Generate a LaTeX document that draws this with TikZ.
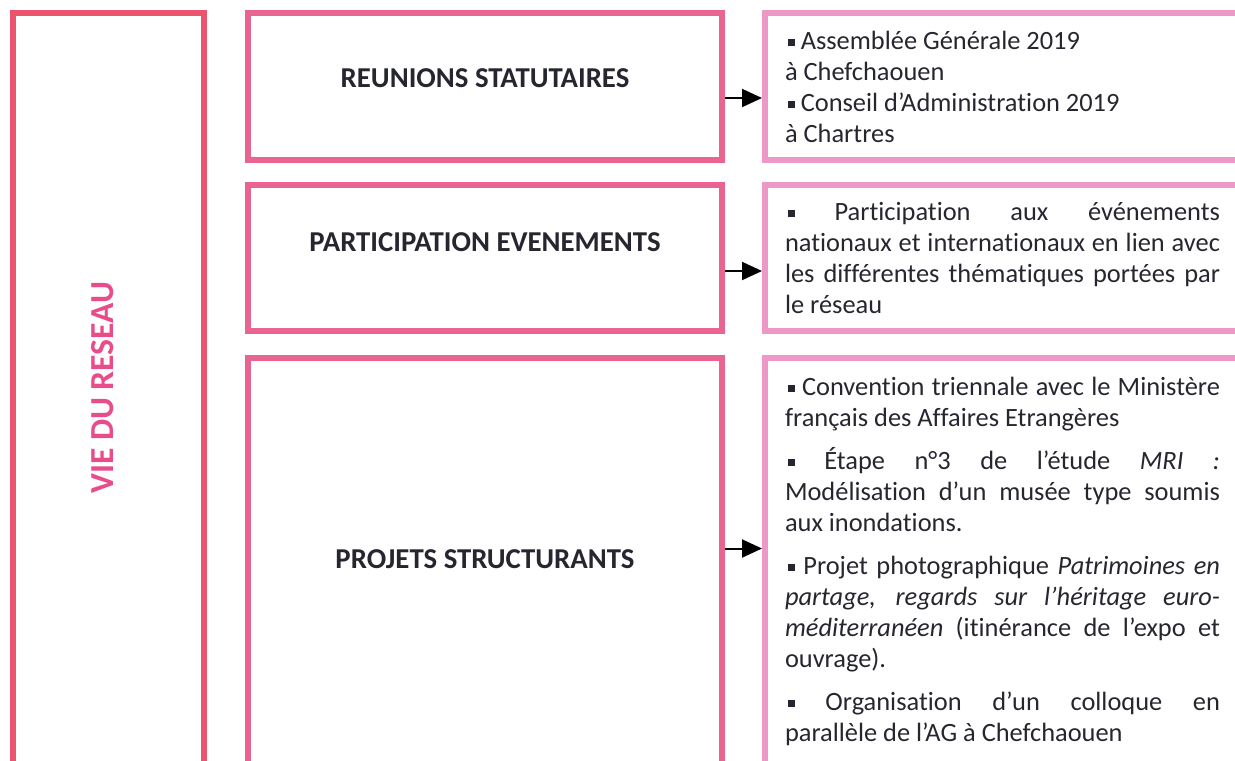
\documentclass[tikz,border=0pt]{standalone}
\usepackage{fontspec}
\setmainfont{Carlito}[Ligatures=NoCommon]
\usepackage{tikz}
\usetikzlibrary{arrows.meta}

\definecolor{rougeVie}{RGB}{234,84,110}
\definecolor{roseMid}{RGB}{234,100,145}
\definecolor{roseClair}{RGB}{238,152,200}
\definecolor{roseTexte}{RGB}{232,76,138}
\definecolor{encre}{RGB}{38,38,48}

\newcommand{\puce}{\hspace*{1.5pt}\rule[1.7pt]{3.4pt}{3.4pt}}

\begin{document}
\begin{tikzpicture}[x=0.5pt, y=-0.5pt,
  cadre/.style={rectangle, draw, line width=3pt, inner sep=0pt},
  vie/.style={cadre, draw=rougeVie, minimum width=95.5pt, minimum height=375.5pt},
  theme/.style={cadre, draw=roseMid, minimum width=237pt},
  detail/.style={cadre, draw=roseClair, minimum width=237.5pt, text width=217.5pt,
    align=justify, text=encre,
    font=\fontsize{13.2}{15.5}\selectfont\setlength{\parindent}{0pt}\setlength{\parskip}{6pt}},
  titre/.style={anchor=base, text=encre, font=\bfseries\fontsize{14.4}{17}\selectfont},
  fleche/.style={-{Triangle[length=10pt,width=9pt]}, line width=1pt}]
  \useasboundingbox (0,0) rectangle (1235,760);

  % colonne de gauche
  \node[vie] (vieR) at (108.5,388.5) {};
  \node[rotate=90, text=roseTexte, font=\bfseries\fontsize{16.8}{20}\selectfont] (vieT) at (103,387.5) {VIE DU RESEAU};

  % themes
  \node[theme, minimum height=73.5pt] (reun) at (485,86.5) {};
  \node[theme, minimum height=73pt] (part) at (485,258) {};
  \node[theme, minimum height=203pt] (proj) at (485,561) {};
  \node[titre] (reunT) at (485,87) {REUNIONS STATUTAIRES};
  \node[titre] (partT) at (485,251) {PARTICIPATION EVENEMENTS};
  \node[titre] (projT) at (485,568) {PROJETS STRUCTURANTS};

  % details
  \node[detail, minimum height=73.5pt] (reunD) at (1002.5,86.5) {\puce{} Assemblée Générale 2019\\ à Chefchaouen\\ \puce{} Conseil d’Administration 2019\\ à Chartres};
  \node[detail, minimum height=73pt] (partD) at (1002.5,258) {\puce{} Participation aux événements\linebreak
    nationaux et internationaux en lien avec\linebreak
    les différentes thématiques portées par\linebreak
    le réseau};
  \node[detail, minimum height=203pt] (projD) at (1002.5,561) {\puce{} Convention triennale avec le Ministère\linebreak
    français des Affaires Etrangères\par
    \puce{} Étape n°3 de l’étude \textit{MRI~:}\linebreak
    Modélisation d’un musée type soumis\linebreak
    aux inondations.\par
    \puce{} Projet photographique \textit{Patrimoines en\linebreak
    partage, regards sur l’héritage euro-\linebreak
    méditerranéen} (itinérance de l’expo et\linebreak
    ouvrage).\par
    \puce{} Organisation d’un colloque en\linebreak
    parallèle de l’AG à Chefchaouen};

  \draw[fleche] ([yshift=-5.75pt]reun.east) -- ([yshift=-5.75pt]reunD.west);
  \draw[fleche] ([yshift=-6.5pt]part.east) -- ([yshift=-6.5pt]partD.west);
  \draw[fleche] ([yshift=6.25pt]proj.east) -- ([yshift=6.25pt]projD.west);
\end{tikzpicture}
\end{document}
